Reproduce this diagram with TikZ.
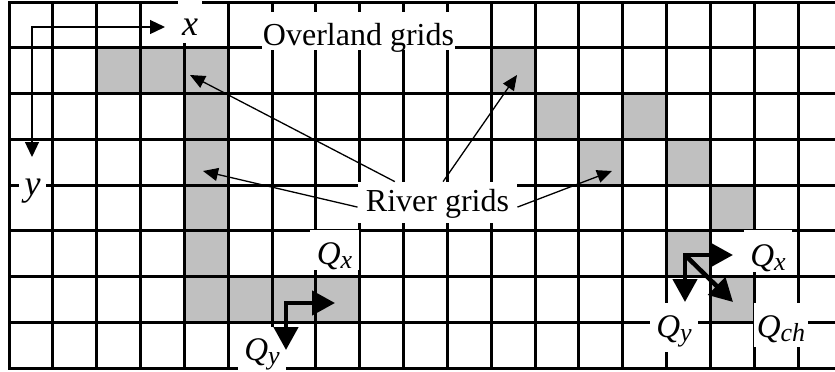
\documentclass[tikz,border=0pt]{standalone}
\usepackage{fontspec}
\setmainfont{Liberation Serif}
\usetikzlibrary{arrows.meta,calc}
\definecolor{rivergray}{HTML}{C0C0C0}
\tikzset{
  gridline/.style={line width=1.5pt, black, line cap=rect},
  rivercell/.style={fill=rivergray},
  lbl/.style={fill=white, inner sep=0pt, font=\fontsize{16}{19}\selectfont, anchor=base},
  biglbl/.style={lbl, font=\fontsize{18}{21}\selectfont},
  leader/.style={line width=0.65pt, -{Triangle[length=7.5pt,width=6.5pt]}},
  axisline/.style={line width=0.65pt, {Triangle[length=7.5pt,width=7pt]}-{Triangle[length=7.5pt,width=7pt]}, line join=miter},
  flow/.style={line width=2.25pt, -{Triangle[length=11.5pt,width=12pt]}},
  flowtwo/.style={line width=2.25pt, {Triangle[length=11.5pt,width=12pt]}-{Triangle[length=11.5pt,width=12pt]}, line join=miter},
}
\newcommand{\Qsub}[1]{{\fontsize{16.5}{19}\selectfont\textit{Q}}\raisebox{-2pt}{\fontsize{13}{13}\selectfont\textit{#1}}}
\begin{document}
\begin{tikzpicture}[x=0.5pt,y=-0.5pt]
\useasboundingbox (0,0) rectangle (835,371);
\fill[white] (0,0) rectangle (835,371);
\def\cw{43.833}
\def\rh{45.75}
% river cells
\foreach \c/\r in {2/1,3/1,4/1,4/2,4/3,4/4,4/5,4/6,5/6,6/6,7/6,
                   11/1,12/2,14/2,13/3,15/3,16/4,15/5,16/6}
  \fill[rivercell] ({9+\c*\cw},{2+\r*\rh}) rectangle ({9+(\c+1)*\cw},{2+(\r+1)*\rh});
% grid
\foreach \c in {0,...,18}
  \draw[gridline] ({9+\c*\cw},2) -- ({9+\c*\cw},368);
\foreach \r in {0,...,8}
  \draw[gridline] (9,{2+\r*\rh}) -- (840,{2+\r*\rh});
% labels
\node[biglbl, text height=17.5pt, text depth=4pt, inner xsep=2.2pt] (xl) at (190,35) {\textit{x}};
\node[lbl, text height=16.5pt, text depth=2.5pt, inner xsep=0.5pt] (overland) at (358.5,45) {Overland grids};
\node[lbl, text height=14.5pt, text depth=6pt, inner xsep=4pt] (rivers) at (437.5,211) {River grids};
\node[biglbl, text height=15pt, text depth=5.5pt, inner xsep=3pt] (yl) at (32.5,195) {\textit{y}};
\node[lbl, text height=17pt, text depth=3pt, inner xsep=3.2pt] (qxa) at (334.5,264) {\Qsub{x}};
\node[lbl, text height=16.5pt, text depth=7pt, inner xsep=3pt] (qya) at (262,360) {\Qsub{y}};
\node[lbl, text height=18pt, text depth=3pt, inner xsep=3pt] (qxb) at (768,266) {\Qsub{x}};
\node[lbl, text height=17pt, text depth=7.5pt, inner xsep=3pt] (qyb) at (674,337) {\Qsub{y}};
\node[lbl, text height=17pt, text depth=5pt, inner xsep=1.5pt] (qch) at (781,337) {\Qsub{ch}};
% axes
\coordinate (o) at (32,27);
\coordinate (xe) at (165,27);
\coordinate (ye) at (32,157);
\draw[axisline] (ye) -- (o) -- (xe);
% leaders
\coordinate (t1) at (190,75);
\coordinate (t2) at (203,171);
\coordinate (t3) at (517,75);
\coordinate (t4) at (612,171);
\draw[leader] ($(rivers.north west)!0.233!(rivers.north east)$) -- (t1);
\draw[leader] ($(rivers.north west)!0.61!(rivers.south west)$) -- (t2);
\draw[leader] ($(rivers.north west)!0.535!(rivers.north east)$) -- (t3);
\draw[leader] ($(rivers.north east)!0.61!(rivers.south east)$) -- (t4);
% flows left
\coordinate (fa) at (286,303);
\coordinate (fax) at (335,303);
\coordinate (fay) at (286,350);
\draw[flowtwo] (fay) -- (fa) -- (fax);
% flows right
\coordinate (fb) at (685,255);
\coordinate (fbx) at (733,255);
\coordinate (fby) at (685,302);
\coordinate (fbd) at (733,302);
\draw[flowtwo] (fby) -- (fb) -- (fbx);
\draw[flow] (fb) -- (fbd);
\end{tikzpicture}
\end{document}
